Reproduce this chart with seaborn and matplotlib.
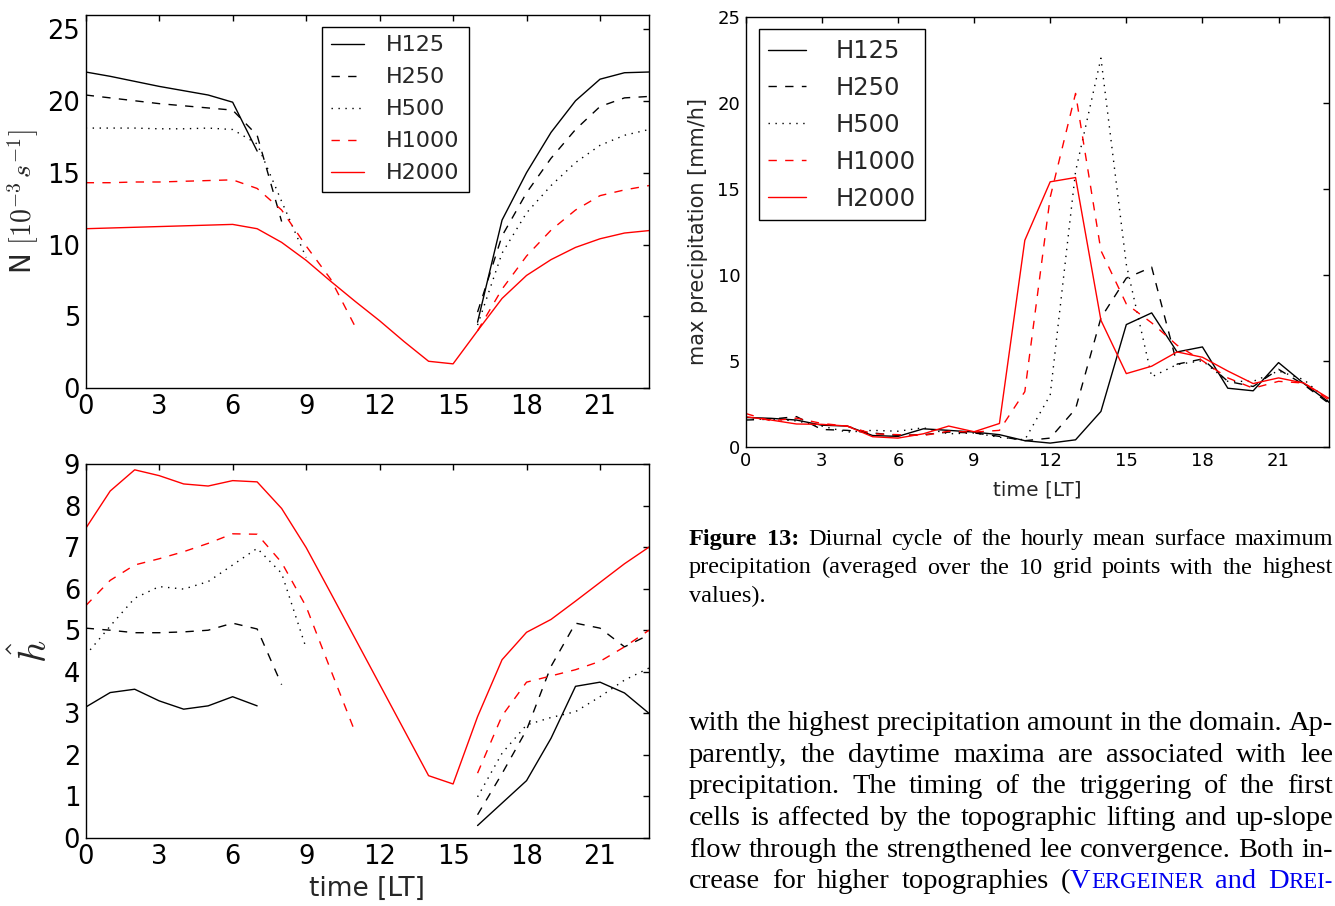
import matplotlib
matplotlib.use("Agg")
import matplotlib.pyplot as plt
from matplotlib.transforms import IdentityTransform
from matplotlib.lines import Line2D
import numpy as np
import pandas as pd
import seaborn as sns

nan = np.nan

# ---------------- data ----------------
hours = list(range(24))
runs = ["H125", "H250", "H500", "H1000", "H2000"]

# Brunt-Vaisala frequency N [1e-3 s^-1]
N_H125 = [22.0, 21.7, 21.35, 21.0, 20.7, 20.4, 19.9, 16.5,
          nan, nan, nan, nan, nan, nan, nan, nan,
          4.6, 11.7, 15.0, 17.8, 20.0, 21.5, 21.95, 22.0]
N_H250 = [20.4, 20.2, 20.0, 19.8, 19.65, 19.5, 19.35, 17.6, 11.6,
          nan, nan, nan, nan, nan, nan, nan,
          5.3, 10.6, 13.6, 16.0, 18.0, 19.6, 20.2, 20.3]
N_H500 = [18.1, 18.1, 18.1, 18.05, 18.05, 18.1, 18.0, 17.0, 13.0, 9.1,
          nan, nan, nan, nan, nan, nan,
          4.4, 9.4, 12.2, 14.1, 15.7, 16.9, 17.6, 18.0]
N_H1000 = [14.3, 14.3, 14.35, 14.35, 14.4, 14.45, 14.5, 13.9, 12.4, 9.9, 7.6, 4.3,
           nan, nan, nan, nan,
           4.0, 6.9, 9.2, 11.0, 12.4, 13.4, 13.8, 14.1]
N_H2000 = [11.1, 11.15, 11.2, 11.25, 11.3, 11.35, 11.4, 11.1, 10.15, 8.9, 7.45, 6.05,
           4.7, 3.25, 1.88, 1.7, 4.0, 6.25, 7.85, 8.95, 9.8, 10.4, 10.8, 10.97]

# non-dimensional mountain height h-hat
h_H125 = [3.15, 3.5, 3.58, 3.3, 3.1, 3.18, 3.4, 3.18,
          nan, nan, nan, nan, nan, nan, nan, nan,
          0.3, 0.84, 1.38, 2.4, 3.65, 3.75, 3.49, 3.0]
h_H250 = [5.05, 5.0, 4.94, 4.94, 4.96, 5.0, 5.17, 5.03, 3.69,
          nan, nan, nan, nan, nan, nan, nan,
          0.56, 1.55, 2.6, 4.13, 5.17, 5.05, 4.6, 4.89]
h_H500 = [4.4, 5.1, 5.77, 6.05, 5.99, 6.17, 6.57, 6.97, 6.37, 4.57,
          nan, nan, nan, nan, nan, nan,
          0.99, 2.04, 2.72, 2.9, 3.04, 3.4, 3.8, 4.09]
h_H1000 = [5.59, 6.2, 6.57, 6.72, 6.89, 7.09, 7.32, 7.31, 6.63, 5.57, 4.05, 2.55,
           nan, nan, nan, nan,
           1.56, 2.94, 3.75, 3.9, 4.05, 4.25, 4.6, 5.0]
h_H2000 = [7.45, 8.35, 8.86, 8.72, 8.52, 8.47, 8.6, 8.57, 7.93, 6.99, 5.9, 4.8,
           3.7, 2.6, 1.5, 1.3, 2.92, 4.29, 4.95, 5.26, 5.7, 6.15, 6.6, 7.0]

# max precipitation [mm/h]
P_H125 = [1.7, 1.65, 1.55, 1.25, 1.2, 0.65, 0.6, 1.04, 0.95, 0.85, 0.7, 0.35,
          0.21, 0.4, 2.05, 7.1, 7.78, 5.51, 5.8, 3.4, 3.25, 4.89, 3.67, 2.57]
P_H250 = [1.55, 1.6, 1.75, 1.0, 0.95, 0.8, 0.65, 0.7, 0.85, 0.8, 0.6, 0.35,
          0.5, 2.2, 7.49, 9.8, 10.44, 4.8, 5.1, 3.8, 3.5, 4.5, 3.6, 2.5]
P_H500 = [1.6, 1.6, 1.5, 1.2, 0.85, 0.95, 0.9, 1.1, 0.75, 0.8, 0.55, 0.4,
          3.0, 16.0, 22.59, 10.6, 4.06, 4.78, 5.0, 3.8, 3.8, 4.4, 3.9, 2.6]
P_H1000 = [1.93, 1.5, 1.66, 1.35, 1.2, 0.75, 0.7, 0.65, 0.9, 0.85, 0.95, 3.2,
           14.5, 20.54, 11.4, 8.3, 7.2, 5.9, 5.0, 4.0, 3.4, 3.8, 3.7, 2.7]
P_H2000 = [1.74, 1.55, 1.32, 1.3, 1.2, 0.58, 0.5, 0.75, 1.2, 0.87, 1.35, 12.0,
           15.4, 15.65, 7.35, 4.25, 4.68, 5.51, 5.2, 4.4, 3.67, 4.0, 3.7, 2.8]

x_ticks = [0, 3, 6, 9, 12, 15, 18, 21]
N_ticks = [0, 5, 10, 15, 20, 25]
h_ticks = [0, 1, 2, 3, 4, 5, 6, 7, 8, 9]
P_ticks = [0, 5, 10, 15, 20, 25]

caption_lines = [
    "Figure 13: Diurnal cycle of the hourly mean surface maximum",
    "precipitation (averaged over the 10 grid points with the highest",
    "values).",
]
body_lines = [
    "with the highest precipitation amount in the domain. Ap-",
    "parently, the daytime maxima are associated with lee",
    "precipitation. The timing of the triggering of the first",
    "cells is affected by the topographic lifting and up-slope",
    "flow through the strengthened lee convergence. Both in-",
]
cite_line_start = "crease for higher topographies"

# ---------------- style ----------------
sns.set_style("white", {"axes.edgecolor": "black",
                        "xtick.direction": "in", "ytick.direction": "in"})
plt.rcParams.update({
    "font.family": ["DejaVu Sans"],
    "mathtext.fontset": "cm",
    "axes.linewidth": 1.0,
    "lines.scale_dashes": False,
    "legend.frameon": True,
    "legend.fancybox": False,
    "legend.edgecolor": "black",
    "legend.framealpha": 1.0,
    "patch.linewidth": 1.0,
})

line_style = {
    "H125": dict(color="black", linestyle="-"),
    "H250": dict(color="black", linestyle=(0, (6, 6))),
    "H500": dict(color="black", linestyle=(0, (1, 4))),
    "H1000": dict(color="red", linestyle=(0, (6, 6))),
    "H2000": dict(color="red", linestyle="-"),
}

W, H = 1335, 906
fig = plt.figure(figsize=(W / 100, H / 100), dpi=100)


def px_axes(l, t, r, b):
    return fig.add_axes([l / W, 1 - b / H, (r - l) / W, (b - t) / H])


ax_n = px_axes(85.7, 14.5, 649, 388.3)
ax_h = px_axes(85.7, 464, 649, 838)
ax_p = px_axes(745.7, 16.7, 1329.3, 446.7)


def draw(ax, series):
    frames = []
    for run, vals in zip(runs, series):
        v = pd.Series(vals, dtype=float)
        seg = v.isna().cumsum()
        df = pd.DataFrame({"hour": hours, "value": v, "run": run, "seg": seg}).dropna()
        frames.append(df)
    data = pd.concat(frames, ignore_index=True)
    handles = []
    for run in runs:
        st = line_style[run]
        sub = data[data["run"] == run]
        for _, part in sub.groupby("seg"):
            sns.lineplot(data=part, x="hour", y="value", ax=ax, estimator=None,
                         errorbar=None, sort=False, legend=False,
                         color=st["color"], linestyle=st["linestyle"], linewidth=1.0)
        handles.append(Line2D([], [], color=st["color"], linestyle=st["linestyle"],
                              linewidth=1.0))
    return handles


hn = draw(ax_n, [N_H125, N_H250, N_H500, N_H1000, N_H2000])
hh = draw(ax_h, [h_H125, h_H250, h_H500, h_H1000, h_H2000])
hp = draw(ax_p, [P_H125, P_H250, P_H500, P_H1000, P_H2000])

for ax, yt, ylim, ls in [(ax_n, N_ticks, (0, 26), 18.5),
                         (ax_h, h_ticks, (0, 9), 18.5),
                         (ax_p, P_ticks, (0, 25), 13)]:
    ax.set_xlim(0, 23)
    ax.set_ylim(*ylim)
    ax.set_xticks(x_ticks)
    ax.set_yticks(yt)
    ax.set_xlabel("")
    ax.set_ylabel("")
    ax.tick_params(direction="in", top=True, right=True, length=4, width=1,
                   pad=4, labelsize=ls, colors="black")
    for s in ax.spines.values():
        s.set_visible(True)
        s.set_color("black")
        s.set_linewidth(1.0)

ax_n.set_ylabel(r"N $[10^{-3}\,s^{-1}]$", fontsize=20, va="center")
ax_n.yaxis.set_label_coords(-0.1113, 0.5)
ax_h.set_ylabel(r"$\hat{h}$", fontsize=28, va="center")
ax_h.yaxis.set_label_coords(-0.0936, 0.5)
ax_h.set_xlabel("time [LT]", fontsize=19, va="center")
ax_h.xaxis.set_label_coords(0.5, -0.1364)
ax_p.set_ylabel("max precipitation [mm/h]", fontsize=15, va="center")
ax_p.yaxis.set_label_coords(-0.0817, 0.5)
ax_p.set_xlabel("time [LT]", fontsize=14.5, va="center")
ax_p.xaxis.set_label_coords(0.5, -0.1007)

ax_n.legend(hn, runs, loc="upper left", bbox_to_anchor=(321.7 / W, 1 - 26.5 / H),
            bbox_transform=fig.transFigure, borderaxespad=0, fontsize=16,
            handlelength=1.5, handletextpad=1.0, borderpad=0.4, labelspacing=0.54)
ax_p.legend(hp, runs, loc="upper left", bbox_to_anchor=(758.7 / W, 1 - 29.3 / H),
            bbox_transform=fig.transFigure, borderaxespad=0, fontsize=17.5,
            handlelength=1.56, handletextpad=1.2, borderpad=0.4, labelspacing=0.53)

# ---------------- text block (justified, Times-like) ----------------
SERIF = ["Liberation Serif", "DejaVu Serif"]
renderer = fig.canvas.get_renderer()
X0, X1 = 689, 1333


def place(words, y_base_px, justify, x0=X0, x1=X1, space=6.0):
    """words: list of words; each word is list of (text, size, weight, color)."""
    placed = []
    widths = []
    for word in words:
        arts = []
        w = 0.0
        for (s, fs, wt, col) in word:
            t = fig.text(0, 0, s, fontsize=fs, fontweight=wt, color=col,
                         family=SERIF, transform=IdentityTransform(),
                         ha="left", va="baseline")
            bb = t.get_window_extent(renderer)
            arts.append((t, w))
            w += bb.width
        placed.append(arts)
        widths.append(w)
    if justify and len(words) > 1:
        gap = (x1 - x0 - sum(widths)) / (len(words) - 1)
    else:
        gap = space
    x = x0
    for arts, w in zip(placed, widths):
        for t, off in arts:
            t.set_position((x + off, H - y_base_px))
        x += w + gap


def simple_words(line, fs, color="black"):
    return [[(w, fs, "normal", color)] for w in line.split()]


CAP = 17.5
BODY = 20.5
SC = 16.4
BLUE = "#0000ee"

cap_baselines = [545, 573.5, 602]
for i, line in enumerate(caption_lines):
    words = simple_words(line, CAP)
    if i == 0:
        words[0] = [("Figure", CAP, "bold", "black")]
        words[1] = [("13:", CAP, "bold", "black")]
    place(words, cap_baselines[i], justify=(i < 2), space=5.0)

body_baselines = [730, 761.7, 793.3, 825, 856.7, 888.3]
for i, line in enumerate(body_lines):
    place(simple_words(line, BODY), body_baselines[i], justify=True)

cite_words = simple_words(cite_line_start, BODY)
cite_words.append([("(", BODY, "normal", "black"), ("V", BODY, "normal", BLUE),
                   ("ERGEINER", SC, "normal", BLUE)])
cite_words.append([("and", BODY, "normal", BLUE)])
cite_words.append([("D", BODY, "normal", BLUE), ("REI-", SC, "normal", BLUE)])
place(cite_words, body_baselines[5], justify=True)

fig.savefig("out.png", dpi=100)
